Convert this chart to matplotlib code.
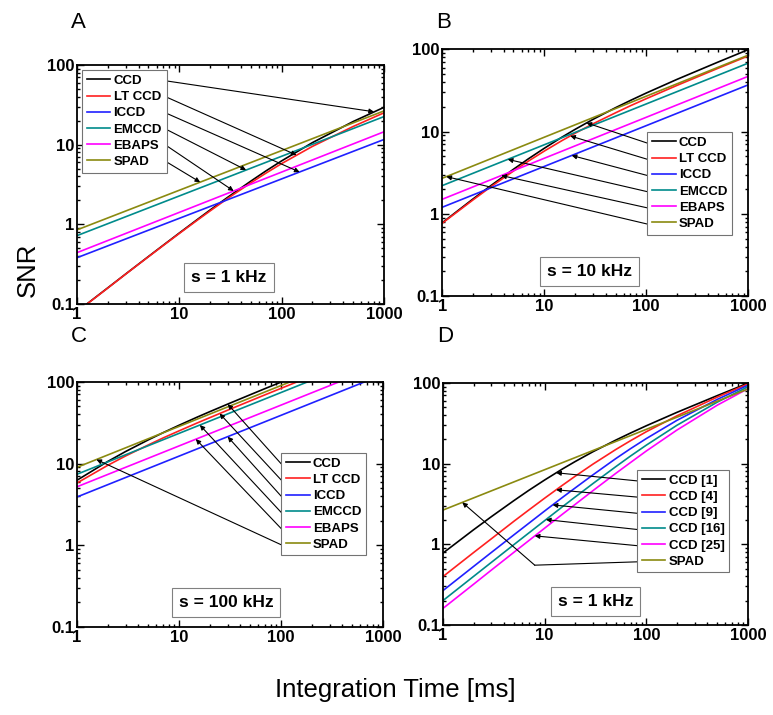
import matplotlib.pyplot as plt
from matplotlib.ticker import FixedLocator, LogLocator, NullFormatter

# Fonts
plt.rcParams['font.family'] = ['Liberation Sans', 'DejaVu Sans']
plt.rcParams['font.size'] = 10

# Data
t_grid = [1, 2, 3, 5, 7, 10, 15, 20, 30, 50, 70, 100, 200, 500, 1000]
t_ends = [1, 1000]

# Panel A, s = 1 kHz
a_ccd = [0.080, 0.159, 0.238, 0.394, 0.548, 0.776, 1.147, 1.51, 2.20, 3.48,
         4.66, 6.25, 10.6, 19.5, 29.4]
a_ltccd = [0.0796, 0.158, 0.237, 0.391, 0.543, 0.766, 1.125, 1.47, 2.13, 3.31,
           4.37, 5.78, 9.51, 16.9, 25.1]
a_iccd = [0.38, 11.6]
a_emccd = [0.72, 22.5]
a_ebaps = [0.44, 14.5]
a_spad = [0.85, 26.5]

# Panel B, s = 10 kHz
b_ccd = [0.776, 1.51, 2.20, 3.48, 4.66, 6.25, 8.58, 10.6, 14.05, 19.5,
         23.9, 29.4, 43.1, 69.6, 99.2]
b_ltccd = [0.766, 1.47, 2.13, 3.31, 4.37, 5.78, 7.79, 9.51, 12.4, 16.9,
           20.6, 25.1, 36.4, 58.5, 83.2]
b_iccd = [1.2, 37]
b_emccd = [2.2, 68]
b_ebaps = [1.5, 47]
b_spad = [2.7, 85]

# Panel C, s = 100 kHz
c_ccd = [6.25, 10.6, 14.05, 19.5, 23.9, 29.4, 36.9, 43.1, 53.4, 69.6,
         82.8, 99.2, 140.9, 223, 316]
c_ltccd = [5.78, 9.51, 12.4, 16.9, 20.6, 25.1, 31.3, 36.4, 45.0, 58.5,
           69.5, 83.2, 118.0, 186.9, 264.4]
c_iccd = [3.9, 123]
c_emccd = [7.4, 234]
c_ebaps = [5.2, 164]
c_spad = [9.0, 285]

# Panel D, s = 1 kHz, CCD binning
d_ccd1 = [0.776, 1.51, 2.20, 3.48, 4.66, 6.25, 8.58, 10.6, 14.05, 19.5,
          23.9, 29.4, 43.1, 69.6, 99.2]
d_ccd4 = [0.397, 0.788, 1.17, 1.93, 2.66, 3.72, 5.39, 6.97, 9.87, 14.9,
          19.2, 24.8, 39.0, 66.7, 97.0]
d_ccd9 = [0.266, 0.530, 0.792, 1.31, 1.82, 2.58, 3.81, 4.99, 7.27, 11.5,
          15.3, 20.4, 34.3, 62.5, 93.6]
d_ccd16 = [0.200, 0.399, 0.597, 0.991, 1.38, 1.96, 2.92, 3.85, 5.67, 9.13,
           12.4, 16.9, 29.8, 57.8, 89.5]
d_ccd25 = [0.160, 0.319, 0.479, 0.796, 1.11, 1.58, 2.36, 3.12, 4.63, 7.54,
           10.3, 14.3, 26.0, 53.0, 84.8]
d_spad = [2.65, 84]

labels_det = ['CCD', 'LT CCD', 'ICCD', 'EMCCD', 'EBAPS', 'SPAD']
labels_bin = ['CCD [1]', 'CCD [4]', 'CCD [9]', 'CCD [16]', 'CCD [25]', 'SPAD']
colors = ['black', '#ff2020', '#2020ff', '#008b8b', '#ff00ff', '#8a8a10']

# Arrow tips (time, SNR) for each legend entry
a_tip_t = [800, 140, 150, 45, 34, 16]
a_tip_snr = [25.9, 7.4, 4.53, 4.8, 2.62, 3.38]
b_tip_t = [26, 18, 18.6, 4.4, 3.8, 1.1]
b_tip_snr = [12.75, 8.85, 5.12, 4.59, 2.92, 2.83]
c_tip_t = [30, 25, 30, 16, 14.6, 1.55]
c_tip_snr = [53.4, 40.9, 21.3, 29.6, 19.9, 11.2]
d_tip_t = [13, 13, 12, 10.3, 8, 1.55]
d_tip_snr = [7.69, 4.73, 3.07, 2.02, 1.27, 3.3]
d_knee = (8, 0.55)

fig = plt.figure(figsize=(7.73, 7.15), dpi=100)

panels = [
    # letter, axes rect, curves, labels, legend anchor, box text, box pos, tips, arrow side
    ('A', [0.0996, 0.575, 0.397, 0.334],
     [(t_grid, a_ccd), (t_grid, a_ltccd), (t_ends, a_iccd),
      (t_ends, a_emccd), (t_ends, a_ebaps), (t_ends, a_spad)],
     labels_det, (0.016, 0.979), 's = 1 kHz', (0.495, 0.11),
     (a_tip_t, a_tip_snr), 'right'),
    ('B', [0.572, 0.586, 0.396, 0.345],
     [(t_grid, b_ccd), (t_grid, b_ltccd), (t_ends, b_iccd),
      (t_ends, b_emccd), (t_ends, b_ebaps), (t_ends, b_spad)],
     labels_det, (0.67, 0.664), 's = 10 kHz', (0.48, 0.10),
     (b_tip_t, b_tip_snr), 'left'),
    ('C', [0.0996, 0.123, 0.396, 0.343],
     [(t_grid, c_ccd), (t_grid, c_ltccd), (t_ends, c_iccd),
      (t_ends, c_emccd), (t_ends, c_ebaps), (t_ends, c_spad)],
     labels_det, (0.667, 0.71), 's = 100 kHz', (0.487, 0.10),
     (c_tip_t, c_tip_snr), 'left'),
    ('D', [0.573, 0.126, 0.3946, 0.3385],
     [(t_grid, d_ccd1), (t_grid, d_ccd4), (t_grid, d_ccd9),
      (t_grid, d_ccd16), (t_grid, d_ccd25), (t_ends, d_spad)],
     labels_bin, (0.636, 0.64), 's = 1 kHz', (0.50, 0.095),
     (d_tip_t, d_tip_snr), 'left'),
]

axes = []
for letter, rect, curves, labels, anchor, box, boxpos, tips, side in panels:
    ax = fig.add_axes(rect)
    for (tx, ty), lab, col in zip(curves, labels, colors):
        ax.plot(tx, ty, color=col, lw=1.2, label=lab)
    ax.set_xscale('log')
    ax.set_yscale('log')
    ax.set_xlim(1, 1000)
    ax.set_ylim(0.1, 100)
    ax.xaxis.set_major_locator(FixedLocator([1, 10, 100, 1000]))
    ax.yaxis.set_major_locator(FixedLocator([0.1, 1, 10, 100]))
    ax.set_xticklabels(['1', '10', '100', '1000'], fontweight='bold', fontsize=12)
    ax.set_yticklabels(['0.1', '1', '10', '100'], fontweight='bold', fontsize=12)
    for axis in (ax.xaxis, ax.yaxis):
        axis.set_minor_locator(LogLocator(base=10, subs=range(2, 10)))
        axis.set_minor_formatter(NullFormatter())
    ax.tick_params(which='both', direction='in', top=True, right=True, width=1)
    ax.tick_params(which='major', length=5, pad=2)
    ax.tick_params(which='minor', length=2.5)
    for sp in ax.spines.values():
        sp.set_linewidth(1.3)

    leg = ax.legend(loc='upper left', bbox_to_anchor=anchor, fancybox=False,
                    framealpha=1, edgecolor='0.45', handlelength=1.8,
                    handletextpad=0.25, labelspacing=0.3, borderpad=0.35,
                    borderaxespad=0, prop={'weight': 'bold', 'size': 9.5})
    leg.get_frame().set_linewidth(0.8)

    ax.text(boxpos[0], boxpos[1], box, transform=ax.transAxes, ha='center',
            va='center', fontsize=12.5, fontweight='bold',
            bbox=dict(boxstyle='square,pad=0.4', fc='white', ec='0.5', lw=0.8))

    x0 = rect[0] * 773 - 6
    fig.text(x0 / 773, 1 - 22 / 715 if letter in 'AB' else 1 - 337 / 715,
             letter, fontsize=16, ha='left', va='center')
    axes.append((ax, leg, tips, side, letter))

# Arrows from the legend entries to the curves
fig.canvas.draw()
renderer = fig.canvas.get_renderer()
for ax, leg, tips, side, letter in axes:
    lbb = leg.get_window_extent(renderer)
    inv = ax.transData.inverted()
    for i, txt in enumerate(leg.get_texts()):
        tb = txt.get_window_extent(renderer)
        yd = (tb.y0 + tb.y1) / 2
        xd = lbb.x1 if side == 'right' else lbb.x0
        start = inv.transform((xd, yd))
        tip = (tips[0][i], tips[1][i])
        if letter == 'D' and i == 5:
            ax.plot([start[0], d_knee[0]], [start[1], d_knee[1]], color='k', lw=0.8)
            start = d_knee
        ax.annotate('', xy=tip, xytext=start,
                    arrowprops=dict(arrowstyle='-|>', color='k', lw=0.8,
                                    mutation_scale=7, shrinkA=0, shrinkB=0))

fig.text(28 / 773, 1 - 270 / 715, 'SNR', rotation=90, fontsize=18.5,
         ha='center', va='center')
fig.text(395 / 773, 1 - 690 / 715, 'Integration Time [ms]', fontsize=18.5,
         ha='center', va='center')

fig.savefig('out.png', dpi=100)
